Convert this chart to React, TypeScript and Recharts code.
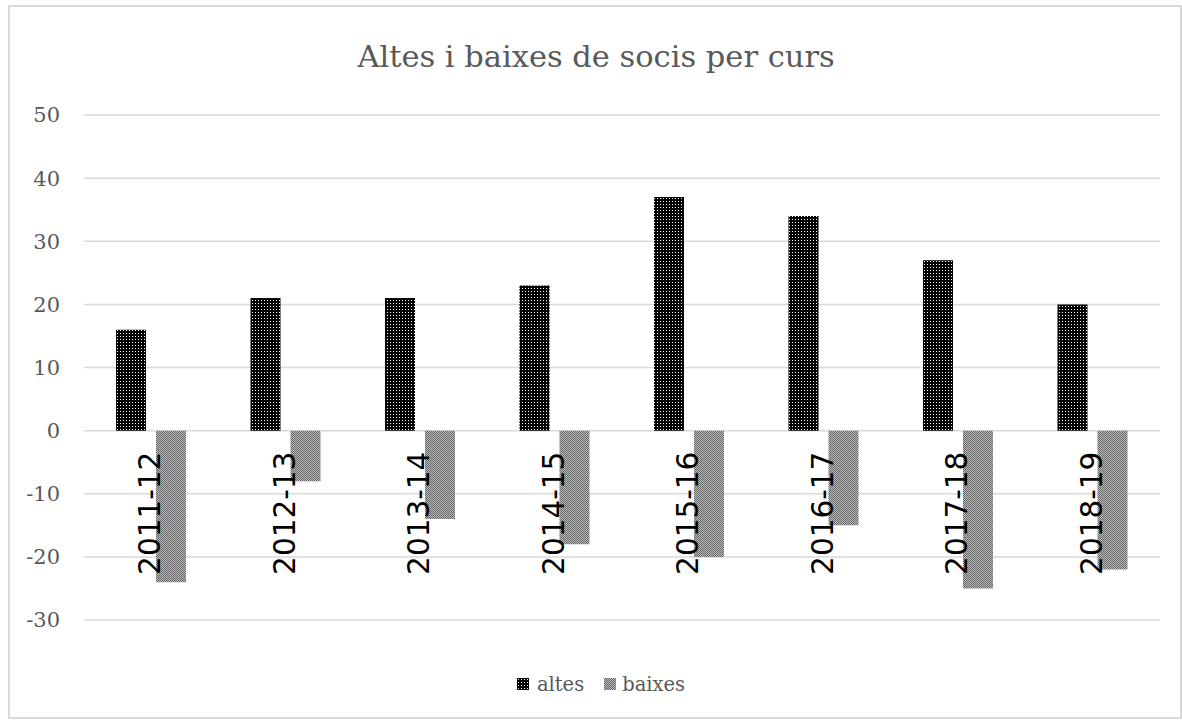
import React from 'react';
import { BarChart, Bar, XAxis, YAxis, CartesianGrid, Legend } from 'recharts';

const cursos = ['2011-12', '2012-13', '2013-14', '2014-15', '2015-16', '2016-17', '2017-18', '2018-19'];
const altes = [16, 21, 21, 23, 37, 34, 27, 20];
const baixes = [-24, -8, -14, -18, -20, -15, -25, -22];
const yTicks = [-30, -20, -10, 0, 10, 20, 30, 40, 50];

const Y_MIN = -30;
const Y_MAX = 50;

const CHART_W = 1174;
const CHART_H = 714;
const MARGIN = { top: 110, right: 22, left: 0, bottom: 74 };
const X_AXIS_H = 1;
const LEGEND_H = 24;
// bottom edge of the plot, used to find where 0 sits for the category labels
const PLOT_BOTTOM = CHART_H - MARGIN.bottom - X_AXIS_H - LEGEND_H;

const data = cursos.map((curs, i) => ({ curs, altes: altes[i], baixes: baixes[i] }));

const serif = '"DejaVu Serif", serif';
const grey = '#595959';

// Excel puts the category labels on the zero line, rotated
const CursTick: React.FC<any> = ({ x, payload }) => {
  const zeroY = PLOT_BOTTOM - ((0 - Y_MIN) / (Y_MAX - Y_MIN)) * (PLOT_BOTTOM - MARGIN.top);
  return (
    <text
      transform={`translate(${x - 1},${zeroY + 21}) rotate(-90)`}
      textAnchor="end"
      dominantBaseline="central"
      fontFamily='"DejaVu Sans", sans-serif'
      fontSize={29.5}
      fill="#000"
    >
      {payload.value}
    </text>
  );
};

const SimpleLegend: React.FC<any> = () => (
  <div style={{ height: LEGEND_H, display: 'flex', justifyContent: 'center', alignItems: 'center', fontFamily: serif, fontSize: 19.5, color: grey }}>
    <svg width={12} height={12} style={{ marginRight: 8 }}>
      <rect width={12} height={12} fill="url(#altesPat)" />
    </svg>
    <span style={{ marginRight: 20 }}>altes</span>
    <svg width={12} height={12} style={{ marginRight: 6 }}>
      <rect width={12} height={12} fill="url(#baixesPat)" />
    </svg>
    <span>baixes</span>
  </div>
);

export default function App() {
  return (
    <div style={{ position: 'absolute', left: 8, top: 5, width: CHART_W, height: CHART_H, background: '#fff' }}>
      <div
        style={{
          position: 'absolute', left: 2, right: 0, top: 34, textAlign: 'center',
          fontFamily: serif, fontSize: 30.5, lineHeight: '36px', color: grey,
        }}
      >
        Altes i baixes de socis per curs
      </div>
      <BarChart width={CHART_W} height={CHART_H} data={data} margin={MARGIN} barSize={30} barGap={10}>
        <defs>
          <pattern id="altesPat" width={3} height={3} patternUnits="userSpaceOnUse">
            <rect width={3} height={3} fill="#000" />
            <rect x={1} y={1} width={1} height={1} fill="#fff" />
          </pattern>
          <pattern id="baixesPat" width={2} height={2} patternUnits="userSpaceOnUse">
            <rect width={2} height={2} fill="#666" />
            <rect x={0} y={0} width={1} height={1} fill="#bbb" />
            <rect x={1} y={1} width={1} height={1} fill="#bbb" />
          </pattern>
        </defs>
        <CartesianGrid vertical={false} stroke="#d9d9d9" strokeWidth={1.5} />
        <XAxis
          dataKey="curs"
          height={X_AXIS_H}
          axisLine={false}
          tickLine={false}
          tickSize={0}
          tickMargin={0}
          interval={0}
          tick={<CursTick />}
        />
        <YAxis
          domain={[Y_MIN, Y_MAX]}
          ticks={yTicks}
          width={76}
          axisLine={false}
          tickLine={false}
          tickSize={0}
          tickMargin={24}
          tick={{ fill: grey, fontFamily: serif, fontSize: 21 }}
        />
        <Legend verticalAlign="bottom" content={<SimpleLegend />} wrapperStyle={{ bottom: 23, left: 6, width: CHART_W }} />
        <Bar dataKey="altes" fill="url(#altesPat)" isAnimationActive={false} />
        <Bar dataKey="baixes" fill="url(#baixesPat)" isAnimationActive={false} />
      </BarChart>
      <div style={{ position: 'absolute', left: 0, top: 0, right: 0, bottom: 0, border: '2px solid #d9d9d9', pointerEvents: 'none' }} />
    </div>
  );
}
